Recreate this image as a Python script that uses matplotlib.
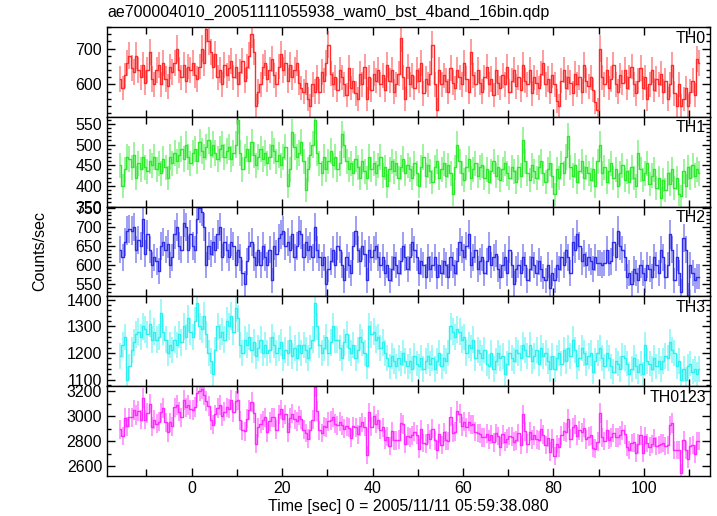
import numpy as np
import matplotlib
matplotlib.use('Agg')
import matplotlib.pyplot as plt
from matplotlib.ticker import MultipleLocator

plt.rcParams['font.family'] = ['Liberation Sans', 'DejaVu Sans']

title = 'ae700004010_20051111055938_wam0_bst_4band_16bin.qdp'
xlabel = 'Time [sec] 0 = 2005/11/11 05:59:38.080'
ylabel = 'Counts/sec'

# 0.5 s bins, first bin centre at -15.75 s
t0 = -15.75
dt = 0.5

# rates (counts/sec), 16 bins per row = 8 s
th0 = [
	615, 590, 625, 660, 680, 645, 635, 680, 640, 620, 655, 605, 640, 690, 615, 600,
	640, 655, 600, 660, 615, 595, 650, 635, 660, 700, 640, 620, 655, 610, 650, 640,
	660, 625, 615, 650, 700, 660, 755, 720, 690, 650, 685, 620, 640, 600, 655, 625,
	645, 665, 620, 650, 600, 635, 665, 610, 650, 680, 740, 690, 540, 580, 600, 650,
	660, 615, 640, 670, 625, 600, 650, 685, 640, 660, 610, 655, 620, 640, 660, 605,
	590, 580, 605, 560, 540, 600, 580, 620, 580, 635, 610, 660, 710, 630, 600, 620,
	585, 640, 620, 600, 570, 645, 590, 610, 575, 560, 630, 600, 650, 560, 620, 585,
	630, 610, 640, 600, 625, 585, 655, 610, 640, 580, 600, 630, 730, 620, 560, 650,
	600, 625, 590, 640, 610, 660, 575, 615, 600, 630, 710, 600, 530, 640, 600, 625,
	610, 580, 645, 605, 590, 640, 620, 600, 660, 615, 580, 690, 625, 600, 640, 605,
	580, 620, 650, 600, 615, 570, 640, 605, 590, 625, 600, 650, 580, 610, 640, 595,
	620, 585, 655, 610, 600, 640, 575, 620, 605, 590, 630, 660, 600, 615, 580, 625,
	600, 555, 540, 610, 640, 590, 620, 605, 575, 630, 600, 620, 580, 655, 610, 595,
	620, 585, 550, 530, 700, 620, 600, 640, 590, 615, 655, 600, 580, 625, 605, 640,
	590, 620, 650, 600, 575, 610, 645, 590, 620, 560, 600, 640, 585, 615, 600, 630,
	580, 610, 560, 600, 655, 575, 540, 600, 540, 560, 590, 540, 580, 610, 570, 670,
	660,
]
th1 = [
	450, 400, 440, 470, 465, 445, 475, 420, 455, 440, 470, 445, 435, 460, 450, 470,
	440, 455, 430, 465, 445, 420, 470, 455, 480, 460, 475, 490, 465, 500, 470, 455,
	480, 490, 460, 505, 485, 470, 495, 510, 475, 500, 480, 465, 490, 500, 470, 485,
	495, 465, 480, 500, 560, 480, 440, 470, 490, 460, 505, 475, 450, 470, 490, 465,
	480, 455, 470, 500, 485, 460, 475, 450, 470, 495, 400, 440, 530, 495, 470, 480,
	505, 460, 390, 440, 475, 500, 560, 480, 455, 430, 470, 440, 460, 485, 450, 470,
	440, 455, 525, 500, 460, 440, 455, 430, 465, 445, 420, 460, 435, 420, 470, 440,
	455, 430, 450, 470, 425, 445, 400, 440, 460, 435, 455, 420, 445, 465, 430, 450,
	440, 420, 455, 430, 400, 445, 470, 425, 450, 435, 410, 445, 460, 420, 440, 455,
	425, 450, 430, 380, 445, 500, 460, 430, 415, 445, 465, 420, 440, 455, 425, 445,
	450, 420, 440, 410, 435, 460, 425, 445, 415, 440, 455, 430, 420, 445, 435, 410,
	445, 425, 510, 460, 430, 415, 450, 435, 420, 445, 460, 430, 410, 440, 455, 425,
	380, 440, 420, 455, 430, 470, 520, 445, 425, 450, 410, 435, 460, 420, 445, 430,
	415, 440, 400, 460, 500, 430, 445, 410, 435, 455, 420, 440, 400, 430, 450, 415,
	435, 410, 445, 420, 400, 480, 440, 415, 430, 455, 405, 425, 440, 395, 420, 370,
	415, 390, 430, 405, 440, 395, 420, 380, 375, 435, 400, 445, 420, 450, 425, 440,
	430,
]
th2 = [
	640, 620, 660, 690, 695, 690, 700, 640, 665, 650, 720, 630, 680, 640, 600, 620,
	610, 585, 650, 660, 640, 655, 600, 620, 680, 700, 650, 640, 710, 700, 640, 680,
	650, 640, 720, 750, 740, 700, 600, 650, 630, 660, 640, 680, 700, 620, 660, 640,
	620, 660, 650, 600, 640, 620, 580, 550, 610, 650, 660, 620, 600, 640, 600, 650,
	620, 600, 640, 560, 650, 630, 670, 680, 690, 650, 660, 640, 680, 620, 650, 690,
	680, 620, 660, 640, 650, 620, 700, 640, 620, 600, 620, 550, 590, 610, 640, 600,
	650, 640, 600, 560, 620, 600, 580, 650, 690, 640, 610, 650, 630, 560, 640, 620,
	640, 650, 620, 600, 620, 580, 600, 560, 590, 620, 600, 580, 610, 650, 620, 590,
	620, 660, 640, 620, 580, 610, 600, 570, 620, 590, 600, 620, 570, 600, 580, 610,
	600, 570, 620, 600, 580, 610, 660, 640, 620, 650, 680, 600, 620, 640, 590, 610,
	620, 580, 610, 650, 600, 620, 630, 590, 570, 600, 620, 580, 640, 600, 550, 590,
	600, 580, 620, 600, 560, 590, 620, 600, 580, 610, 590, 570, 560, 600, 540, 580,
	560, 600, 590, 620, 600, 640, 620, 580, 660, 640, 680, 650, 610, 630, 600, 620,
	610, 590, 620, 605, 605, 600, 605, 640, 605, 610, 660, 620, 690, 650, 640, 620,
	570, 580, 550, 590, 580, 560, 600, 580, 560, 600, 590, 570, 620, 600, 580, 640,
	620, 570, 600, 680, 640, 560, 620, 580, 530, 670, 640, 520, 600, 580, 560, 570,
	570,
]
th3 = [
	1190, 1230, 1260, 1100, 1150, 1210, 1240, 1270, 1280, 1260, 1300, 1290, 1270, 1310, 1250, 1280,
	1250, 1260, 1350, 1280, 1250, 1200, 1230, 1210, 1250, 1230, 1270, 1240, 1300, 1260, 1330, 1280,
	1260, 1320, 1390, 1300, 1290, 1340, 1270, 1200, 1170, 1120, 1210, 1300, 1260, 1280, 1250, 1320,
	1300, 1340, 1280, 1370, 1330, 1230, 1200, 1250, 1230, 1260, 1210, 1240, 1190, 1220, 1250, 1200,
	1230, 1200, 1210, 1260, 1230, 1200, 1220, 1240, 1180, 1210, 1200, 1250, 1190, 1220, 1180, 1230,
	1200, 1230, 1210, 1180, 1220, 1250, 1390, 1300, 1230, 1200, 1220, 1260, 1200, 1240, 1300, 1250,
	1250, 1220, 1180, 1240, 1270, 1220, 1200, 1230, 1180, 1210, 1260, 1240, 1200, 1150, 1300, 1270,
	1280, 1250, 1260, 1220, 1240, 1200, 1180, 1150, 1190, 1170, 1150, 1180, 1160, 1200, 1170, 1150,
	1170, 1140, 1190, 1160, 1150, 1180, 1140, 1170, 1190, 1160, 1180, 1140, 1170, 1200, 1150, 1180,
	1170, 1200, 1300, 1280, 1260, 1290, 1280, 1250, 1260, 1200, 1230, 1220, 1250, 1180, 1210, 1200,
	1180, 1210, 1160, 1150, 1200, 1140, 1170, 1200, 1180, 1190, 1120, 1160, 1200, 1180, 1170, 1210,
	1200, 1180, 1230, 1210, 1190, 1230, 1170, 1190, 1210, 1160, 1220, 1190, 1200, 1170, 1140, 1190,
	1140, 1180, 1200, 1160, 1210, 1170, 1220, 1190, 1250, 1210, 1150, 1180, 1220, 1200, 1160, 1190,
	1200, 1130, 1170, 1200, 1220, 1180, 1150, 1200, 1180, 1150, 1130, 1170, 1160, 1140, 1190, 1180,
	1160, 1120, 1140, 1180, 1150, 1130, 1160, 1120, 1230, 1170, 1160, 1140, 1180, 1150, 1170, 1140,
	1170, 1190, 1180, 1240, 1210, 1200, 1150, 1170, 1100, 1140, 1100, 1150, 1160, 1130, 1140, 1120,
	1140,
]

names = ['TH0', 'TH1', 'TH2', 'TH3', 'TH0123']
colors = ['#ff2a2a', '#2ee82e', '#2e2ee8', '#2ef0f0', '#ff2aff']
ylims = [(510, 760), (350, 567), (518, 753), (1075, 1413), (2520, 3240)]
ymajor = [100, 50, 50, 100, 200]
yminor = [20, 10, 10, 20, 100]

th0123 = list(np.array(th0) + np.array(th1) + np.array(th2) + np.array(th3))
series = [th0, th1, th2, th3, th0123]

fig = plt.figure(figsize=(7.17, 5.16), dpi=100)
W, H = 717, 516
left, right, top, bottom = 107, 710, 27, 476
ph = (bottom - top) / 5.0

axes = []
for i in range(5):
	# panel i runs from y_top to y_top+ph (pixels from the top of the figure)
	y_top = top + i * ph
	ax = fig.add_axes([left / W, 1 - (y_top + ph) / H, (right - left) / W, ph / H])
	axes.append(ax)
	y = np.array(series[i], dtype=float)
	t = t0 + dt * np.arange(len(y))
	err = np.sqrt(y * dt) / dt
	ax.errorbar(t, y, yerr=err, fmt='none', ecolor=colors[i], elinewidth=1.3, alpha=0.5)
	ax.step(t, y, where='mid', color=colors[i], lw=1.0)
	ax.set_xlim(-18.7, 114.6)
	ax.set_ylim(*ylims[i])
	ax.xaxis.set_major_locator(MultipleLocator(20))
	ax.xaxis.set_minor_locator(MultipleLocator(10))
	ax.yaxis.set_major_locator(MultipleLocator(ymajor[i]))
	ax.yaxis.set_minor_locator(MultipleLocator(yminor[i]))
	ax.tick_params(which='both', direction='in', top=True, right=True, labelsize=11.5, colors='black')
	ax.tick_params(which='major', length=6, width=1)
	ax.tick_params(which='minor', length=3, width=1)
	ax.tick_params(axis='x', which='minor', length=5)
	for s in ax.spines.values():
		s.set_linewidth(1.0)
	if i < 4:
		ax.tick_params(axis='x', labelbottom=False)
	ax.text(0.993, 0.96, names[i], transform=ax.transAxes, ha='right', va='top', fontsize=11.5)

axes[-1].set_xlabel(xlabel, fontsize=11.5, labelpad=2)
fig.text(40 / W, 1 - 251 / H, ylabel, rotation=90, ha='center', va='center', fontsize=11.5)
fig.text(107 / W, 1 - 12 / H, title, ha='left', va='center', fontsize=11.5)

fig.savefig('out.png', dpi=100)
